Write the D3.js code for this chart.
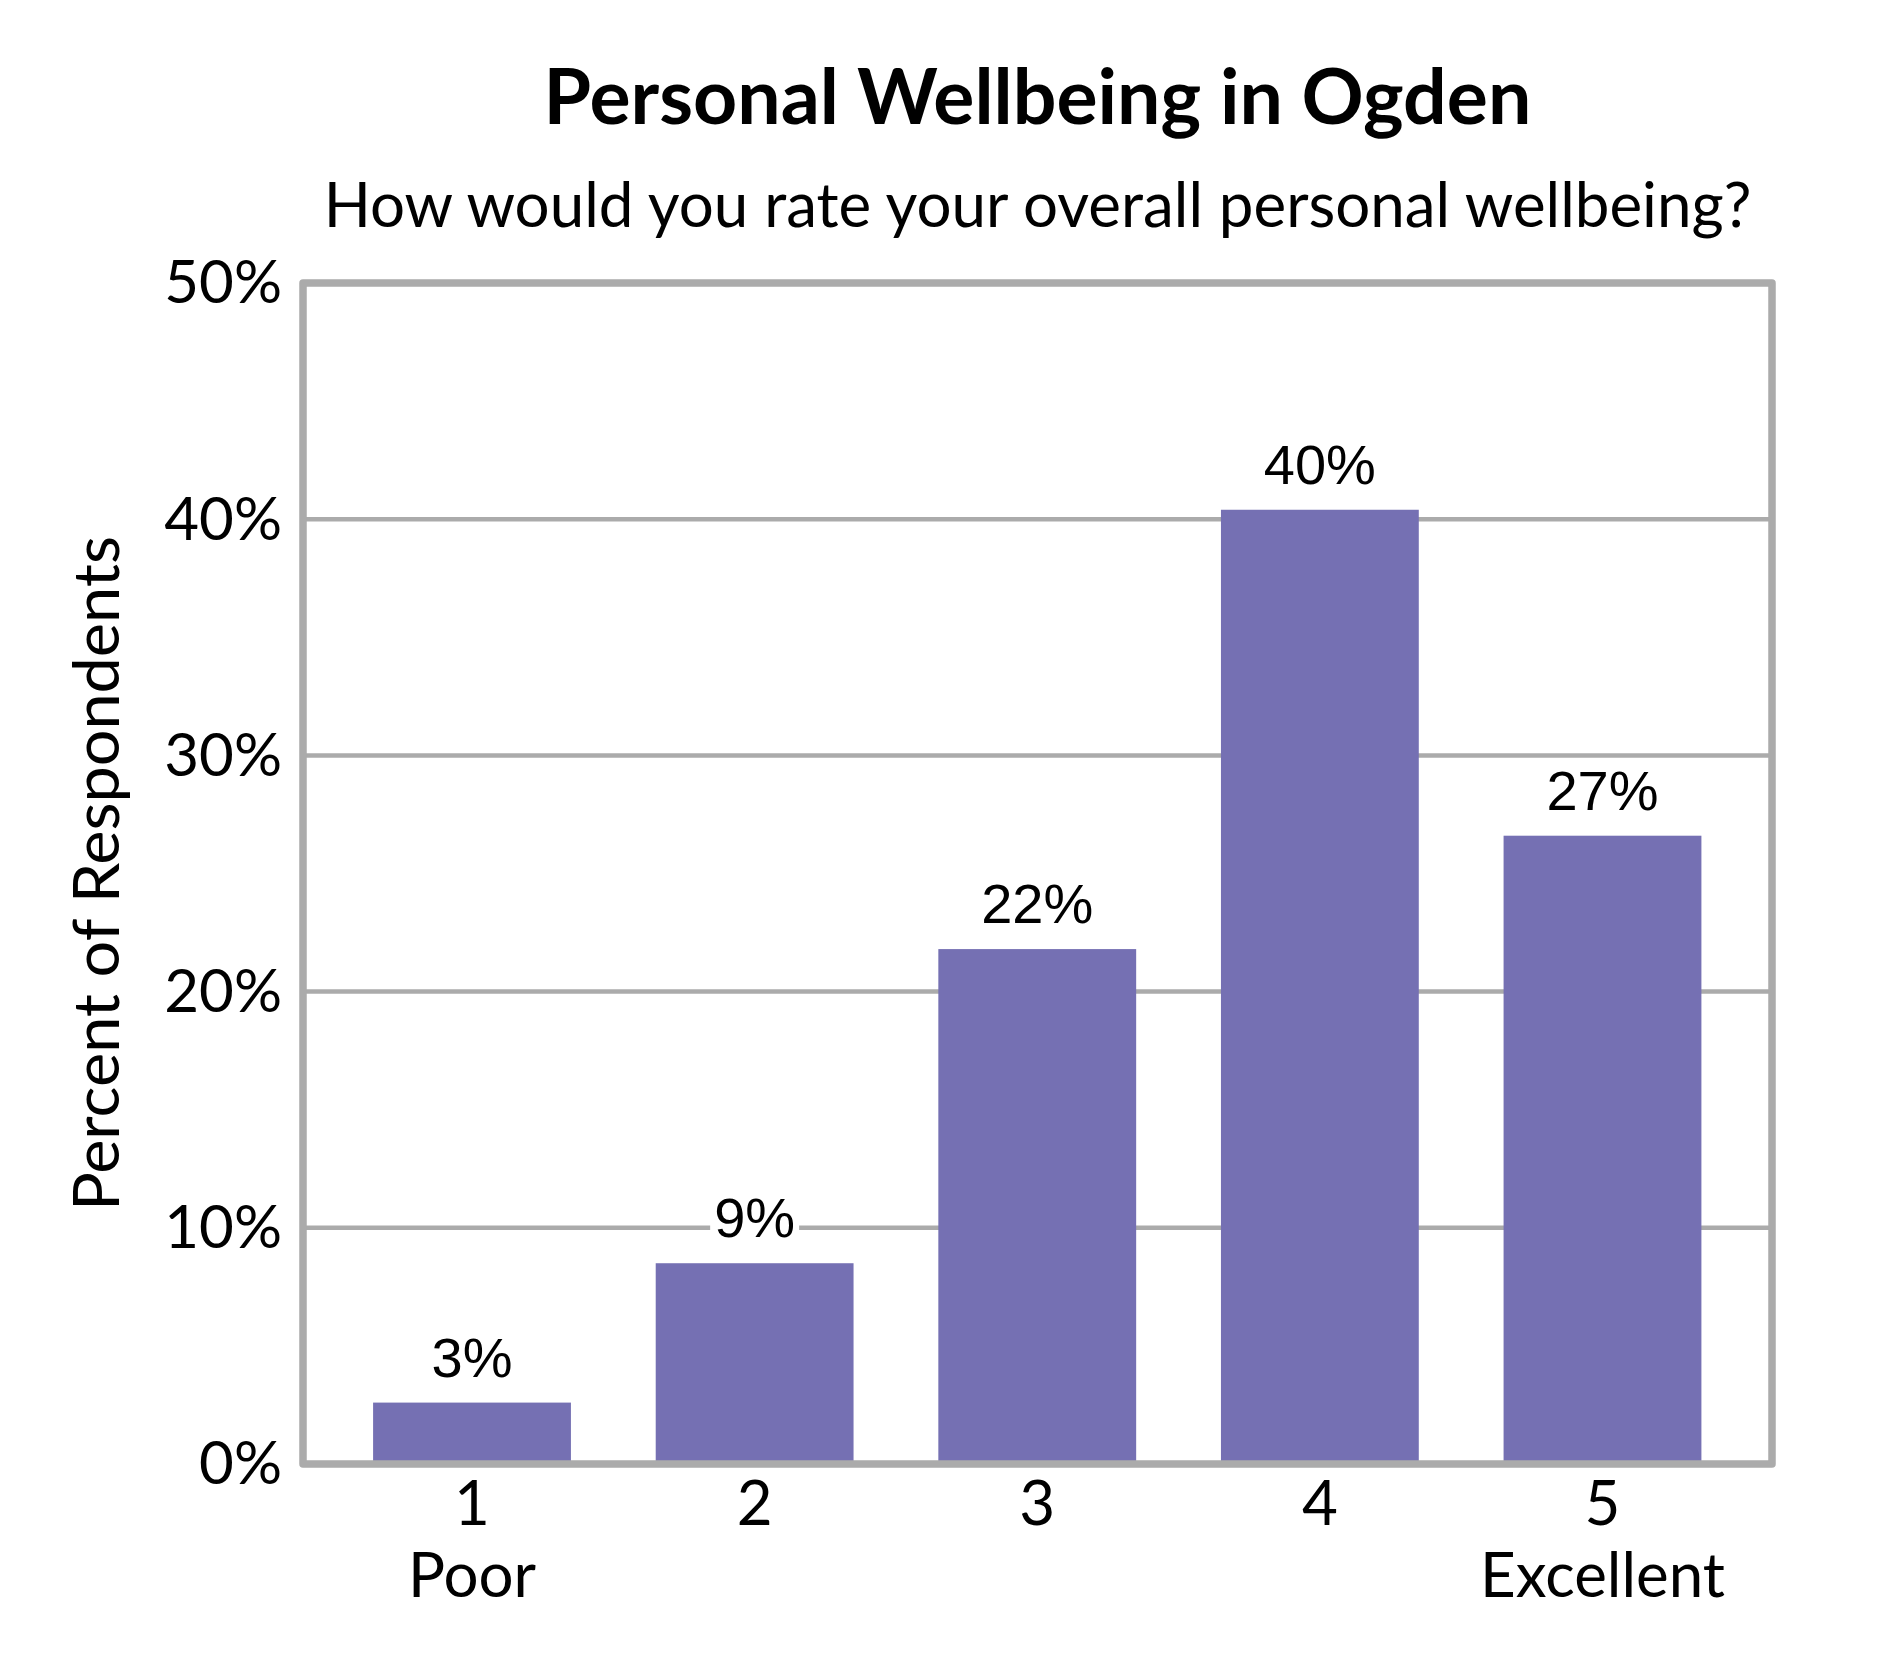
<!DOCTYPE html>
<html>
<head>
<meta charset="utf-8">
<script src="https://cdn.jsdelivr.net/npm/d3@7"></script>
<style>
  html, body { margin: 0; padding: 0; background: #ffffff; }
  svg { display: block; }
</style>
</head>
<body>
<svg id="chart" width="1890" height="1680"></svg>
<script>
// ---- data ----
const categories = ["1", "2", "3", "4", "5"];
const categoryNotes = ["Poor", "", "", "", "Excellent"];
const values = [2.6, 8.5, 21.8, 40.4, 26.6];       // percent of respondents
const yTicks = [0, 10, 20, 30, 40, 50];
const titleText = "Personal Wellbeing in Ogden";
const subtitleText = "How would you rate your overall personal wellbeing?";
const yAxisTitle = "Percent of Respondents";

// ---- layout ----
const W = 1890, H = 1680;
const plot = { left: 303, right: 1772, top: 283, bottom: 1464 };
const barColor = "#7570b3";
const gridColor = "#ababab";
const calibriLike = "Lato, Carlito, 'Noto Sans', sans-serif";
const arialLike = "'Liberation Sans', Arial, sans-serif";

const svg = d3.select("#chart");
svg.append("rect").attr("width", W).attr("height", H).attr("fill", "#fff");

const y = d3.scaleLinear().domain([0, 50]).range([plot.bottom, plot.top]);
const x = d3.scaleBand().domain(categories)
  .range([330.7, 1743.8]).paddingInner(0.3).paddingOuter(0.15);

// fit helper: scale font-size so text reaches target width
function fit(sel, target) {
  const fs = parseFloat(sel.attr("font-size"));
  const w = sel.node().getComputedTextLength();
  const nfs = fs * target / w;
  sel.attr("font-size", nfs);
  return nfs / fs;
}

const cx = (plot.left + plot.right) / 2;

// title
const t = svg.append("text").attr("x", cx).attr("y", 124)
  .attr("text-anchor", "middle").attr("font-family", calibriLike)
  .attr("font-weight", "bold").attr("font-size", 72).attr("fill", "#000")
  .text(titleText);
fit(t, 988);

// subtitle
const st = svg.append("text").attr("x", cx).attr("y", 227)
  .attr("text-anchor", "middle").attr("font-family", calibriLike)
  .attr("font-size", 65).attr("fill", "#000")
  .text(subtitleText);
const k = fit(st, 1428);
const labelSize = 65 * k;

// gridlines
svg.append("g").selectAll("line").data(yTicks.filter(d => d > 0 && d < 50)).join("line")
  .attr("x1", plot.left).attr("x2", plot.right)
  .attr("y1", d => y(d)).attr("y2", d => y(d))
  .attr("stroke", gridColor).attr("stroke-width", 4.5);

// bars
svg.append("g").selectAll("rect").data(values).join("rect")
  .attr("x", (d, i) => x(categories[i]))
  .attr("width", x.bandwidth())
  .attr("y", d => y(d))
  .attr("height", d => y(0) - y(d))
  .attr("fill", barColor);

// frame
svg.append("rect")
  .attr("x", plot.left).attr("y", plot.top)
  .attr("width", plot.right - plot.left).attr("height", plot.bottom - plot.top)
  .attr("fill", "none").attr("stroke", gridColor).attr("stroke-width", 7.5)
  .attr("stroke-linejoin", "round");

// data labels with white background
const lg = svg.append("g");
values.forEach((v, i) => {
  const g = lg.append("g");
  const tx = g.append("text")
    .attr("x", x(categories[i]) + x.bandwidth() / 2)
    .attr("y", y(v) - 26)
    .attr("text-anchor", "middle")
    .attr("font-family", arialLike).attr("font-size", 56).attr("fill", "#000")
    .text(Math.round(v) + "%");
  const bb = tx.node().getBBox();
  g.insert("rect", "text")
    .attr("x", bb.x - 4).attr("y", bb.y + 4)
    .attr("width", bb.width + 8).attr("height", bb.height - 4)
    .attr("fill", "#fff");
});

// y axis tick labels
const yAxis = d3.axisLeft(y).tickValues(yTicks).tickFormat(d => d + "%").tickSize(0).tickPadding(0);
const ya = svg.append("g").attr("transform", `translate(282,0)`).call(yAxis);
ya.select(".domain").remove();
ya.selectAll("text").attr("font-family", calibriLike).attr("font-size", labelSize * 0.97)
  .attr("fill", "#000").attr("dy", "0.33em");

// x axis tick labels
const xAxis = d3.axisBottom(x).tickSize(0).tickPadding(0);
const xa = svg.append("g").attr("transform", `translate(0,1525)`).call(xAxis);
xa.select(".domain").remove();
xa.selectAll("text").attr("font-family", calibriLike).attr("font-size", labelSize)
  .attr("fill", "#000").attr("dy", 0).attr("y", 0);

// category notes
svg.append("g").selectAll("text").data(categories).join("text")
  .attr("x", d => x(d) + x.bandwidth() / 2)
  .attr("y", 1597)
  .attr("text-anchor", "middle")
  .attr("font-family", calibriLike).attr("font-size", labelSize).attr("fill", "#000")
  .text((d, i) => categoryNotes[i]);

// y axis title
const yt = svg.append("text")
  .attr("transform", `translate(119, ${(plot.top + plot.bottom) / 2}) rotate(-90)`)
  .attr("text-anchor", "middle")
  .attr("font-family", calibriLike).attr("font-size", labelSize).attr("fill", "#000")
  .text(yAxisTitle);
fit(yt, 675);
</script>
</body>
</html>
